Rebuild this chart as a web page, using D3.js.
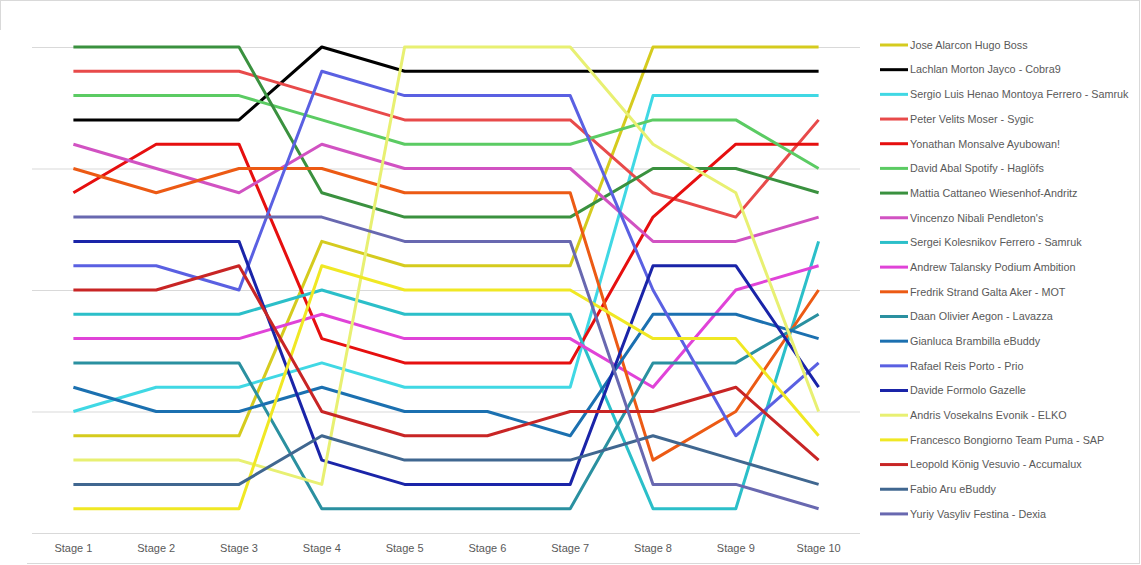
<!DOCTYPE html>
<html>
<head>
<meta charset="utf-8">
<script src="https://cdn.jsdelivr.net/npm/d3@7"></script>
<style>
  html, body { margin: 0; padding: 0; background: #ffffff; }
  svg { display: block; }
  text { font-family: "Liberation Sans", "DejaVu Sans", sans-serif; }
</style>
</head>
<body>
<svg id="chart" width="1141" height="565"></svg>
<script>
// ---------- data ----------
const stages = ["Stage 1","Stage 2","Stage 3","Stage 4","Stage 5","Stage 6","Stage 7","Stage 8","Stage 9","Stage 10"];

const riders = [
  "Jose Alarcon Hugo Boss",
  "Lachlan Morton Jayco - Cobra9",
  "Sergio Luis Henao Montoya Ferrero - Samruk",
  "Peter Velits Moser - Sygic",
  "Yonathan Monsalve Ayubowan!",
  "David Abal Spotify - Haglöfs",
  "Mattia Cattaneo Wiesenhof-Andritz",
  "Vincenzo Nibali Pendleton's",
  "Sergei Kolesnikov Ferrero - Samruk",
  "Andrew Talansky Podium Ambition",
  "Fredrik Strand Galta Aker - MOT",
  "Daan Olivier Aegon - Lavazza",
  "Gianluca Brambilla eBuddy",
  "Rafael Reis Porto - Prio",
  "Davide Formolo Gazelle",
  "Andris Vosekalns Evonik - ELKO",
  "Francesco Bongiorno Team Puma - SAP",
  "Leopold König Vesuvio - Accumalux",
  "Fabio Aru eBuddy",
  "Yuriy Vasyliv Festina - Dexia"
];

const alarcon    = [17,17,17, 9,10,10,10, 1, 1, 1];
const morton     = [ 4, 4, 4, 1, 2, 2, 2, 2, 2, 2];
const henao      = [16,15,15,14,15,15,15, 3, 3, 3];
const velits     = [ 2, 2, 2, 3, 4, 4, 4, 7, 8, 4];
const monsalve   = [ 7, 5, 5,13,14,14,14, 8, 5, 5];
const abal       = [ 3, 3, 3, 4, 5, 5, 5, 4, 4, 6];
const cattaneo   = [ 1, 1, 1, 7, 8, 8, 8, 6, 6, 7];
const nibali     = [ 5, 6, 7, 5, 6, 6, 6, 9, 9, 8];
const kolesnikov = [12,12,12,11,12,12,12,20,20, 9];
const talansky   = [13,13,13,12,13,13,13,15,11,10];
const galta      = [ 6, 7, 6, 6, 7, 7, 7,18,16,11];
const olivier    = [14,14,14,20,20,20,20,14,14,12];
const brambilla  = [15,16,16,15,16,16,17,12,12,13];
const reis       = [10,10,11, 2, 3, 3, 3,11,17,14];
const formolo    = [ 9, 9, 9,18,19,19,19,10,10,15];
const vosekalns  = [18,18,18,19, 1, 1, 1, 5, 7,16];
const bongiorno  = [20,20,20,10,11,11,11,13,13,17];
const konig      = [11,11,10,16,17,17,16,16,15,18];
const aru        = [19,19,19,17,18,18,18,17,18,19];
const vasyliv    = [ 8, 8, 8, 8, 9, 9, 9,19,19,20];

const rankSeries = [alarcon, morton, henao, velits, monsalve, abal, cattaneo, nibali,
  kolesnikov, talansky, galta, olivier, brambilla, reis, formolo, vosekalns,
  bongiorno, konig, aru, vasyliv];

const colors = ["#d5cb1e","#000000","#40d8e4","#e84a4a","#e60f0f","#5bcb63","#3a913f","#d152c2",
  "#2bbfc9","#e043d8","#ec5a14","#2a90a0","#1b70b0","#5a60e2","#1a24a8","#e8f072",
  "#f0e824","#c82525","#406790","#6868b0"];

const yTicks = [1, 6, 11, 16, 21];

// ---------- chart ----------
const svg = d3.select("#chart");

// outer frame pieces
const frame = svg.append("g").attr("stroke", "#d9d9d9").attr("stroke-width", 1).attr("fill", "none");
frame.append("line").attr("x1", 0).attr("x2", 1140).attr("y1", 0.5).attr("y2", 0.5);
frame.append("line").attr("x1", 0.5).attr("x2", 0.5).attr("y1", 0).attr("y2", 30);
frame.append("line").attr("x1", 1139.5).attr("x2", 1139.5).attr("y1", 0).attr("y2", 564);
frame.append("line").attr("x1", 27).attr("x2", 1140).attr("y1", 563.5).attr("y2", 563.5);

const x = d3.scaleBand().domain(stages).range([32, 860]).paddingInner(0).paddingOuter(0);
const xc = s => x(s) + x.bandwidth() / 2;
const y = d3.scaleLinear().domain([1, 21]).range([47, 533]);

// gridlines
const grid = svg.append("g")
  .attr("transform", "translate(32,0)")
  .call(d3.axisLeft(y).tickValues(yTicks.slice(0, 4)).tickSize(-828).tickFormat(""));
grid.select(".domain").remove();
grid.selectAll(".tick line").attr("stroke", "#d9d9d9").attr("stroke-width", 1);

// bottom axis
const xAxis = svg.append("g")
  .attr("transform", `translate(0,${y(21)})`)
  .call(d3.axisBottom(x).tickSize(0).tickPadding(11));
xAxis.select(".domain").attr("stroke", "#d9d9d9").attr("d", "M32,0.5H860");
xAxis.selectAll(".tick text")
  .attr("fill", "#595959")
  .style("font-size", "11px")
  .style("font-family", "'Liberation Sans', sans-serif");

// lines
const line = d3.line()
  .x((d, i) => xc(stages[i]))
  .y(d => y(d));

const lines = svg.append("g").attr("fill", "none");
rankSeries.forEach((vals, i) => {
  lines.append("path")
    .datum(vals)
    .attr("d", line)
    .attr("stroke", colors[i])
    .attr("stroke-width", 3)
    .attr("stroke-linejoin", "round")
    .attr("stroke-linecap", "butt");
});

// legend
const legend = svg.append("g").attr("transform", "translate(880,45)");
riders.forEach((name, i) => {
  const g = legend.append("g").attr("transform", `translate(0,${i * 24.68})`);
  g.append("line").attr("x1", 0).attr("x2", 28).attr("y1", 0).attr("y2", 0)
    .attr("stroke", colors[i]).attr("stroke-width", 3);
  g.append("text").attr("x", 30).attr("y", 0).attr("dy", "0.35em")
    .attr("fill", "#595959")
    .style("font-size", "10.8px")
    .text(name);
});
</script>
</body>
</html>
